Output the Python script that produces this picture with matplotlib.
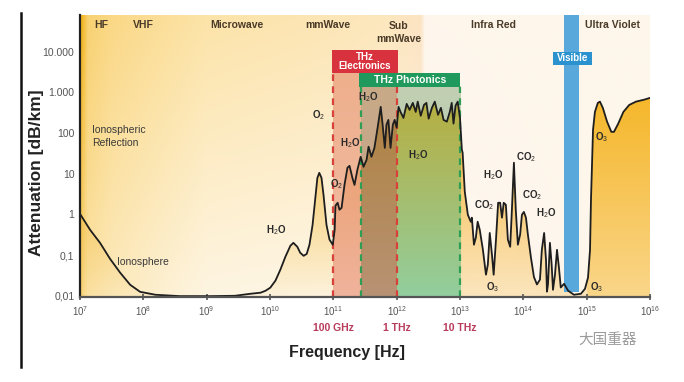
import numpy as np
import matplotlib
matplotlib.use('Agg')
import matplotlib.pyplot as plt
from matplotlib.patches import Polygon, Rectangle
from matplotlib.lines import Line2D
from matplotlib.colors import to_rgba

plt.rcParams['font.family'] = ['Liberation Sans', 'DejaVu Sans']
plt.rcParams['mathtext.fontset'] = 'custom'
plt.rcParams['mathtext.rm'] = 'Liberation Sans'
plt.rcParams['mathtext.it'] = 'Liberation Sans:italic'
plt.rcParams['mathtext.bf'] = 'Liberation Sans:bold'

# atmospheric attenuation (Hz, dB/km)
freq_hz = [1.0e7, 1.2e7, 1.44e7, 2.07e7, 2.98e7, 4.3e7, 6.2e7, 8.9e7, 1.55e8, 3.8e8,
           1.15e9, 2.8e9, 4.9e9, 7.1e9, 8.5e9, 1.01e10, 1.22e10, 1.46e10, 1.75e10, 2.1e10,
           2.34e10, 2.7e10, 3.0e10, 3.4e10, 3.8e10, 4.2e10, 4.7e10, 5.25e10, 5.6e10, 6.0e10,
           6.5e10, 7.0e10, 7.8e10, 8.7e10, 9.8e10, 1.05e11, 1.08e11, 1.17e11, 1.25e11, 1.35e11,
           1.5e11, 1.67e11, 1.8e11, 2.0e11, 2.16e11, 2.4e11, 2.7e11, 3.0e11, 3.35e11, 3.6e11,
           4.0e11, 4.45e11, 5.0e11, 5.6e11, 6.0e11, 6.5e11, 6.9e11, 7.4e11, 8.0e11, 8.7e11,
           9.3e11, 1.0e12, 1.07e12, 1.15e12, 1.28e12, 1.44e12, 1.6e12, 1.8e12, 2.0e12, 2.15e12,
           2.4e12, 2.7e12, 2.95e12, 3.2e12, 3.6e12, 4.0e12, 4.5e12, 5.0e12, 5.5e12, 6.2e12,
           6.9e12, 7.4e12, 7.9e12, 8.5e12, 9.2e12, 1.0e13, 1.07e13, 1.1e13, 1.15e13, 1.19e13,
           1.33e13, 1.48e13, 1.54e13, 1.66e13, 1.78e13, 1.9e13, 2.05e13, 2.3e13, 2.57e13, 2.75e13,
           2.95e13, 3.2e13, 3.4e13, 3.7e13, 4.0e13, 4.3e13, 4.6e13, 4.9e13, 5.3e13, 5.7e13,
           6.2e13, 6.6e13, 7.1e13, 7.6e13, 8.2e13, 8.9e13, 9.5e13, 1.02e14, 1.1e14, 1.18e14,
           1.32e14, 1.47e14, 1.64e14, 1.83e14, 1.96e14, 2.13e14, 2.28e14, 2.36e14, 2.45e14, 2.63e14,
           2.8e14, 2.94e14, 3.16e14, 3.4e14, 3.65e14, 3.9e14, 4.4e14, 5.1e14, 6.3e14, 8.1e14,
           9.4e14, 1.05e15, 1.13e15, 1.17e15, 1.22e15, 1.26e15, 1.35e15, 1.5e15, 1.62e15, 1.8e15,
           2.1e15, 2.45e15, 2.7e15, 3.15e15, 3.8e15, 4.7e15, 6.0e15, 8.1e15, 1.0e16]
atten_db_km = [1.03, 0.66, 0.42, 0.20, 0.081, 0.037, 0.0186, 0.0125, 0.0106, 0.0098,
               0.0098, 0.0100, 0.0112, 0.0119, 0.0133, 0.0158, 0.0236, 0.044, 0.091, 0.17,
               0.20, 0.16, 0.114, 0.096, 0.107, 0.18, 0.55, 3.0, 7.9, 10.5,
               7.9, 3.0, 0.55, 0.24, 0.18, 0.42, 1.63, 1.93, 1.3, 1.45,
               5.3, 14, 15.6, 7.9, 5.3, 12.5, 26, 14.8, 22, 46,
               26, 43, 135, 440, 160, 43, 160, 210, 43, 160,
               210, 135, 440, 330, 235, 520, 370, 550, 330, 590,
               265, 490, 550, 225, 415, 590, 280, 415, 210, 190,
               330, 550, 170, 470, 590, 235, 39, 33, 9.3, 3.6,
               0.98, 0.66, 0.83, 0.18, 0.27, 0.66, 0.42, 0.135, 0.033, 0.058,
               0.35, 0.10, 0.033, 0.24, 1.93, 1.93, 0.83, 1.93, 1.72, 0.24,
               0.16, 1.3, 18.6, 1.3, 0.18, 0.32, 0.98, 1.15, 0.83, 0.32,
               0.086, 0.029, 0.019, 0.025, 0.135, 0.35, 0.076, 0.0126, 0.019, 0.20,
               0.058, 0.014, 0.033, 0.135, 0.049, 0.016, 0.0197, 0.0133, 0.0106, 0.0112,
               0.0148, 0.028, 0.135, 2.3, 22, 120, 330, 550, 590, 415,
               190, 107, 107, 170, 330, 490, 590, 660, 730]

band_names = ['HF', 'VHF', 'Microwave', 'mmWave', 'Sub\nmmWave', 'Infra Red', 'Ultra Violet']
band_centre_hz = [2.2e7, 1.0e8, 3.0e9, 8.3e10, 1.07e12, 3.4e13, 2.6e15]

molecules = ['O$_2$', 'O$_2$', 'H$_2$O', 'H$_2$O', 'H$_2$O', 'H$_2$O', 'H$_2$O', 'CO$_2$',
             'CO$_2$', 'CO$_2$', 'H$_2$O', 'O$_3$', 'O$_3$', 'O$_3$']
molecule_hz = [5.9e10, 1.12e11, 1.86e11, 3.5e11, 2.2e12, 1.23e10, 3.3e13, 2.4e13,
               1.1e14, 1.38e14, 2.3e14, 3.3e13, 1.45e15, 1.74e15]
molecule_db = [280, 5.4, 58, 780, 29, 0.4, 9.3, 1.7, 26, 3.0, 1.1, 0.016, 0.0166, 81]

thz_marks_hz = [1e11, 1e12, 1e13]
thz_marks = ['100 GHz', '1 THz', '10 THz']
y_ticks = [1e4, 1e3, 1e2, 1e1, 1, 0.1, 0.01]
y_ticklabels = ['10.000', '1.000', '100', '10', '1', '0,1', '0,01']

lf = np.log10(freq_hz)
la = np.log10(atten_db_km)
YLO, YHI = -2.03, 4.90
E_TOP, P_TOP = 3.48, 3.14          # bottom edges of the THz boxes
P_LEFT = 11.43                      # start of THz photonics

fig = plt.figure(figsize=(6.84, 3.82), dpi=100)
ax = fig.add_axes([80 / 684, 85 / 382, 570 / 684, 282 / 382])


def vgrad(x0, x1, y0, y1, c_top, c_bot, z, clip=None, n=256):
    t = np.linspace(0, 1, n)[:, None]
    a = np.array(to_rgba(c_top))
    b = np.array(to_rgba(c_bot))
    img = (a * (1 - t) + b * t)[:, None, :]
    im = ax.imshow(img, extent=(x0, x1, y0, y1), origin='upper', aspect='auto',
                   zorder=z, interpolation='bilinear')
    if clip is not None:
        im.set_clip_path(clip)
    return im


# background bands
stops = [(7.00, '#F0AE12', '#F6CF6A'), (7.06, '#F4BD38', '#F9DC92'),
         (7.12, '#F8D170', '#FBE3A8'), (7.5, '#FAD886', '#FCE9BC'),
         (8.3, '#FBDE98', '#FDF0D2'), (9.0, '#FCE3A8', '#FEF5E2'),
         (10.5, '#FCE5B2', '#FEF6E5'), (11.9, '#FCE7BE', '#FEF6E8'),
         (12.38, '#FCE3C2', '#FEF5EA'), (12.45, '#FEF6EC', '#FEF8F0'),
         (16.0, '#FEF6EA', '#FEF6EA')]
xs = np.linspace(7, 16, 1200)
sx = [s[0] for s in stops]
top = np.array([to_rgba(s[1])[:3] for s in stops])
bot = np.array([to_rgba(s[2])[:3] for s in stops])
ct = np.stack([np.interp(xs, sx, top[:, k]) for k in range(3)], axis=-1)
cb = np.stack([np.interp(xs, sx, bot[:, k]) for k in range(3)], axis=-1)
t = np.linspace(0, 1, 300)[:, None, None]
bg = ct[None, :, :] * (1 - t) + cb[None, :, :] * t
ax.imshow(bg, extent=(7, 16, YLO, YHI), origin='upper', aspect='auto', zorder=0)

# area under the curve
verts = [(lf[0], YLO - 0.2)] + list(zip(lf, la)) + [(lf[-1], YLO - 0.2)]
under = Polygon(verts, closed=True, facecolor='none', edgecolor='none')
ax.add_patch(under)

vgrad(7, 11, YLO, 1.2, (0.95, 0.72, 0.2, 0.55), (0.95, 0.72, 0.2, 0.05), 1, under)
vgrad(13, 15.0, YLO, 2.0, (0.96, 0.68, 0.12, 0.85), (0.97, 0.74, 0.3, 0.3), 1, under)
vgrad(15.0, 16, YLO, 3.0, '#F5B628', '#FAD68A', 1, under)

# THz bands
vgrad(11.0, P_LEFT, YLO, E_TOP, '#EEAF8C', '#F2BEA8', 1)
vgrad(P_LEFT, 12.0, YLO, E_TOP, '#C8AA88', '#C4A48A', 1)
vgrad(12.0, 13.0, YLO, P_TOP, '#C2CEB2', '#A9D3B2', 1)
vgrad(11.0, P_LEFT, YLO, E_TOP, '#E8975A', '#F0B39C', 2, under)
vgrad(P_LEFT, 12.0, YLO, E_TOP, '#AE8039', '#B89274', 2, under)
vgrad(12.0, 13.0, YLO, P_TOP, '#BAAC3A', '#92CE9E', 2, under)

# visible light bar
ax.add_patch(Rectangle((14.64, -1.9), 0.24, YHI + 1.9, facecolor='#59A8DC',
                       edgecolor='none', zorder=3))

# dashed band limits
for x in (11.0, 12.0):
    ax.plot([x, x], [YLO, E_TOP], color='#D9403A', lw=1.6, ls=(0, (3, 2.4)), zorder=4)
for x in (P_LEFT, 13.0):
    ax.plot([x, x], [YLO, P_TOP], color='#2E9E55', lw=1.6, ls=(0, (3, 2.4)), zorder=4)

ax.plot(lf, la, color='#1e1e1e', lw=1.3, zorder=5)

# label boxes
ax.add_patch(Rectangle((10.98, E_TOP), 1.04, 0.56, facecolor='#D8323E', edgecolor='none', zorder=6))
ax.text(11.5, E_TOP + 0.28, 'THz\nElectronics', color='white', fontsize=7, fontweight='bold',
        ha='center', va='center', linespacing=0.95, zorder=7)
ax.add_patch(Rectangle((P_LEFT - 0.02, P_TOP), 13.0 - P_LEFT + 0.02, 0.34, facecolor='#1F9A5C',
                       edgecolor='none', zorder=6))
ax.text((P_LEFT + 13.0) / 2, P_TOP + 0.17, 'THz Photonics', color='white', fontsize=7.5,
        fontweight='bold', ha='center', va='center', zorder=7)
ax.add_patch(Rectangle((14.47, 3.68), 0.62, 0.32, facecolor='#2A93CF', edgecolor='none', zorder=6))
ax.text(14.78, 3.84, 'Visible', color='white', fontsize=7, fontweight='bold',
        family=['Liberation Sans Narrow', 'Liberation Sans'], ha='center', va='center', zorder=7)

for name, f in zip(band_names, band_centre_hz):
    ax.text(np.log10(f), 4.475 if '\n' in name else 4.66, name, ha='center', va='center',
            fontsize=7.5, fontweight='bold', color='#4a3b28', linespacing=1.4,
            family=['Liberation Sans Narrow', 'Liberation Sans'], zorder=7)

for m, f, a in zip(molecules, molecule_hz, molecule_db):
    ax.text(np.log10(f), np.log10(a), m, ha='center', va='center', fontsize=7,
            fontweight='bold', color='#2a2a2a', zorder=7)

ax.text(7.19, 1.91, 'Ionospheric\nReflection', ha='left', va='center', fontsize=7.5,
        color='#3a3a3a', linespacing=1.3, zorder=7)
ax.text(7.59, -1.16, 'Ionosphere', ha='left', va='center', fontsize=7.5, color='#3a3a3a', zorder=7)

for f, s in zip(thz_marks_hz, thz_marks):
    ax.text(np.log10(f), -2.79, s, ha='center', va='center', fontsize=7.5,
            fontweight='bold', color='#B83A5A')

ax.set_xlim(7, 16)
ax.set_ylim(YLO, YHI)
ax.set_xticks(range(7, 17))
ax.set_xticklabels([r'$10^{%d}$' % k for k in range(7, 17)])
ax.set_yticks(np.log10(y_ticks))
ax.set_yticklabels(y_ticklabels)
ax.tick_params(axis='x', direction='inout', length=5, width=1.2, color='#555555',
               labelsize=7, labelcolor='#555555', pad=3)
ax.tick_params(axis='y', length=0, labelsize=7.5, labelcolor='#555555', pad=4)
for s in ('top', 'right'):
    ax.spines[s].set_visible(False)
ax.spines['left'].set_color('#222222')
ax.spines['left'].set_linewidth(1.6)
ax.spines['bottom'].set_color('#555555')
ax.spines['bottom'].set_linewidth(1.6)
ax.spines['left'].set_zorder(8)
ax.spines['bottom'].set_zorder(8)

fig.text(347 / 684, 1 - 352 / 382, 'Frequency [Hz]', ha='center', va='center',
         fontsize=11.5, fontweight='bold', color='#222222')
fig.text(37 / 684, 1 - 173 / 382, 'Attenuation [dB/km]', ha='center', va='center',
         rotation=90, fontsize=12.5, fontweight='bold', color='#222222')
fig.add_artist(Line2D([21 / 684, 21 / 684], [1 - 367 / 382, 1 - 13 / 382], color='#111111', lw=1.8))
fig.text(608 / 684, 1 - 340 / 382, '大国重器', ha='center', va='center', fontsize=10.5,
         color='#9a9a9a', family=['Noto Sans CJK SC', 'DejaVu Sans'])

fig.savefig('out.png', dpi=100)
